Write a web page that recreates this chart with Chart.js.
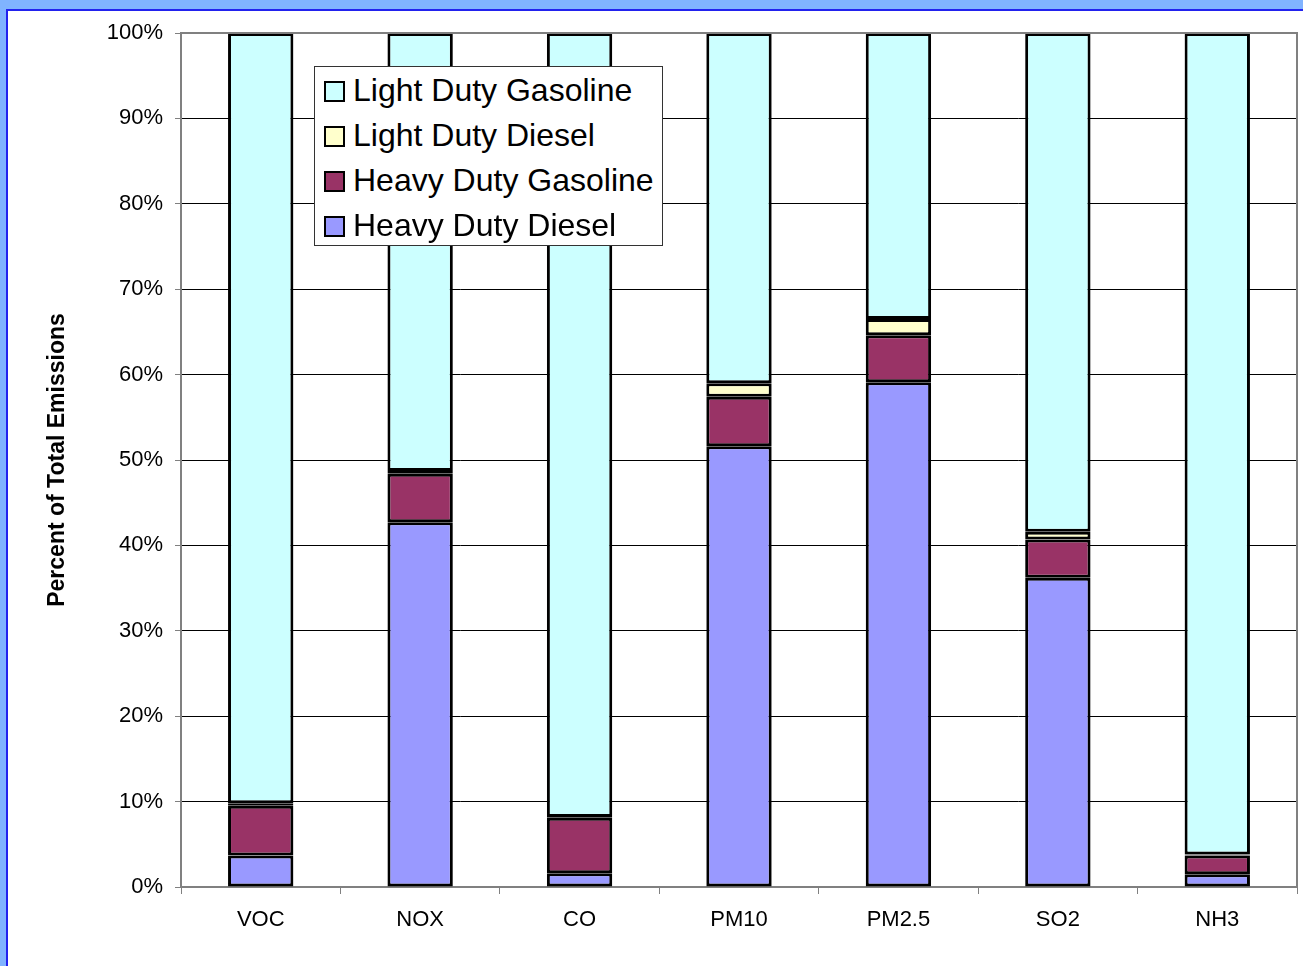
<!DOCTYPE html>
<html>
<head>
<meta charset="utf-8">
<script src="https://cdn.jsdelivr.net/npm/chart.js@4.4.1/dist/chart.umd.min.js"></script>
<style>
    body { margin: 0; background: #80b3ff; overflow: hidden; }
    .frame {
        position: absolute; left: 6px; top: 9px; width: 1400px; height: 1100px;
        background: #fff; border: 2px solid #2222ee;
    }
    .wrap { position: absolute; left: 0; top: 0; width: 1303px; height: 966px; }
    #legend {
        position: absolute; left: 314px; top: 66px; width: 347px; height: 178px;
        background: #fff; border: 1px solid #333;
        font-family: Arial, "Liberation Sans", sans-serif; font-size: 32px; color: #000;
    }
    #legend .item { position: absolute; left: 8px; height: 45px; line-height: 45px; white-space: nowrap; }
    #legend .sw {
        position: absolute; left: 1px; top: 13px; width: 17px; height: 17px;
        border: 2px solid #000;
    }
    #legend .txt { position: absolute; left: 30px; top: 0; }
</style>
</head>
<body>
<div class="frame"></div>
<div class="wrap">
    <canvas id="chart1" width="1303" height="966"></canvas>
    <div id="legend"></div>
</div>
<script>
const categories = ['VOC', 'NOX', 'CO', 'PM10', 'PM2.5', 'SO2', 'NH3'];
const heavyDiesel = [3.7, 42.7, 1.6, 51.6, 59.1, 36.2, 1.5];
const heavyGasoline = [5.8, 5.7, 6.5, 5.8, 5.5, 4.5, 2.2];
const lightDiesel = [0.3, 0.3, 0.1, 1.6, 1.9, 0.9, 0.1];
const lightGasoline = [90.2, 51.3, 91.8, 41.0, 33.5, 58.4, 96.2];

const datasets = [
    { label: 'Heavy Duty Diesel', data: heavyDiesel, backgroundColor: '#9999ff' },
    { label: 'Heavy Duty Gasoline', data: heavyGasoline, backgroundColor: '#993366' },
    { label: 'Light Duty Diesel', data: lightDiesel, backgroundColor: '#ffffcc' },
    { label: 'Light Duty Gasoline', data: lightGasoline, backgroundColor: '#ccffff' }
];
datasets.forEach(d => {
    d.borderColor = '#000';
    d.borderWidth = 3;
    d.borderSkipped = false;
    d.inflateAmount = 0;
    d.categoryPercentage = 1.0;
    d.barPercentage = 0.41;
});

// grey frame round the plot area
const plotBorder = {
    id: 'plotBorder',
    afterDraw(chart) {
        const a = chart.chartArea;
        const c = chart.ctx;
        c.save();
        c.strokeStyle = '#808080';
        c.lineWidth = 2;
        c.beginPath();
        c.moveTo(a.left, a.bottom);
        c.lineTo(a.left, a.top);
        c.lineTo(a.right, a.top);
        c.lineTo(a.right, a.bottom);
        c.stroke();
        c.restore();
    }
};

const font = 'Arial, "Liberation Sans", sans-serif';
const ctx1 = document.getElementById('chart1').getContext('2d');
new Chart(ctx1, {
    type: 'bar',
    data: { labels: categories, datasets: datasets },
    plugins: [plotBorder],
    options: {
        responsive: false,
        animation: false,
        layout: { padding: { top: 33, right: 6, left: 0, bottom: 0 } },
        plugins: {
            legend: { display: false },
            tooltip: { enabled: false }
        },
        scales: {
            x: {
                stacked: true,
                afterFit: s => { s.height = 79; },
                grid: { offset: true, drawOnChartArea: false, drawTicks: true, tickLength: 7, color: '#808080', lineWidth: 1 },
                border: { color: '#808080', width: 2 },
                ticks: { color: '#000', padding: 13, font: { family: font, size: 22 } }
            },
            y: {
                stacked: true,
                min: 0,
                max: 100,
                afterFit: s => { s.width = 181; },
                grid: { color: '#000', lineWidth: 1, tickLength: 6, tickColor: '#808080' },
                border: { color: '#808080', width: 2 },
                ticks: {
                    stepSize: 10, color: '#000', padding: 12,
                    font: { family: font, size: 22 },
                    callback: v => v + '%'
                },
                title: {
                    display: true,
                    text: 'Percent of Total Emissions',
                    color: '#000',
                    font: { family: font, size: 23, weight: 'bold' },
                    padding: { top: 44, bottom: 0 }
                }
            }
        }
    }
});

// legend inside the plot, top series first
const legend = document.getElementById('legend');
datasets.slice().reverse().forEach((d, i) => {
    const item = document.createElement('div');
    item.className = 'item';
    item.style.top = (1 + i * 45) + 'px';
    item.innerHTML = '<span class="sw" style="background:' + d.backgroundColor + '"></span><span class="txt">' + d.label + '</span>';
    legend.appendChild(item);
});
</script>
</body>
</html>
